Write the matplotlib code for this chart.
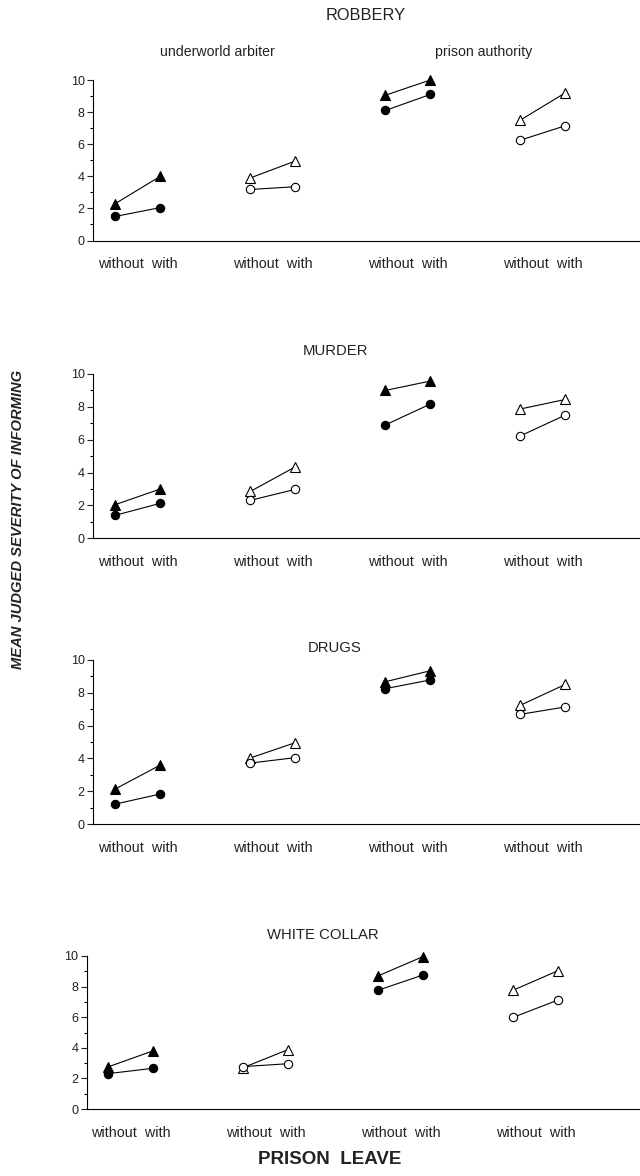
import numpy as np
import matplotlib
matplotlib.use("Agg")
import matplotlib.pyplot as plt
from matplotlib.ticker import MultipleLocator

plt.rcParams["font.family"] = ["Liberation Sans", "DejaVu Sans"]

crimes = ["ROBBERY", "MURDER", "DRUGS", "WHITE COLLAR"]
conditions = ["without", "with"]
groups = ["underworld arbiter", "underworld arbiter", "prison authority", "prison authority"]

# each row: 4 groups x (without, with)
triangle_vals = {
    "ROBBERY":      [[2.3, 4.0], [3.9, 4.95], [9.05, 10.0], [7.5, 9.2]],
    "MURDER":       [[2.05, 3.0], [2.85, 4.35], [9.0, 9.57], [7.87, 8.45]],
    "DRUGS":        [[2.15, 3.6], [4.03, 4.96], [8.66, 9.33], [7.23, 8.5]],
    "WHITE COLLAR": [[2.75, 3.8], [2.7, 3.88], [8.7, 9.96], [7.76, 9.04]],
}
circle_vals = {
    "ROBBERY":      [[1.5, 2.05], [3.18, 3.35], [8.1, 9.1], [6.25, 7.15]],
    "MURDER":       [[1.4, 2.13], [2.31, 2.98], [6.9, 8.17], [6.23, 7.5]],
    "DRUGS":        [[1.23, 1.84], [3.72, 4.05], [8.24, 8.77], [6.68, 7.13]],
    "WHITE COLLAR": [[2.31, 2.66], [2.77, 2.96], [7.76, 8.76], [5.99, 7.12]],
}
filled = [True, False, True, False]

W, H = 640, 1176
fig = plt.figure(figsize=(6.4, 11.76), dpi=100)

# axes placement in pixels: left, x=0 pixel, y=10 pixel, y=0 pixel
panels = [
    (93, 137.8, 80, 240.5),
    (93, 137.8, 374, 538.3),
    (93, 137.8, 659.7, 824.3),
    (86.7, 130.5, 956, 1109),
]
spacing = 135.0
top_val = 10.5
txt = "#222222"

for crime, (lp, x0p, y10, y0) in zip(crimes, panels):
    ppu = (y0 - y10) / 10.0
    top_px = y0 - top_val * ppu
    ax = fig.add_axes([lp / W, 1 - y0 / H, (W - lp) / W, (y0 - top_px) / H])
    ax.set_xlim((lp - x0p) / spacing, (W - x0p) / spacing)
    ax.set_ylim(0, top_val)
    for s in ["top", "right"]:
        ax.spines[s].set_visible(False)
    ax.spines["left"].set_bounds(0, 10)
    ax.spines["left"].set_linewidth(0.8)
    ax.spines["bottom"].set_linewidth(0.8)
    ax.yaxis.set_major_locator(MultipleLocator(2))
    ax.yaxis.set_minor_locator(MultipleLocator(1))
    ax.tick_params(axis="y", which="major", length=4, width=0.8, labelsize=9, colors=txt, pad=2)
    ax.tick_params(axis="y", which="minor", length=2, width=0.8)
    ax.set_xticks(range(4))
    ax.set_xticklabels(["without  with"] * 4)
    ax.tick_params(axis="x", length=0, labelsize=10.4, pad=12, colors=txt)

    for g in range(4):
        xs = [g - 1 / 6, g + 1 / 6]
        fc = "black" if filled[g] else "white"
        ax.plot(xs, triangle_vals[crime][g], color="black", lw=0.8, marker="^",
                ms=6.5, mfc=fc, mec="black", mew=0.8, clip_on=False, zorder=3)
        ax.plot(xs, circle_vals[crime][g], color="black", lw=0.8, marker="o",
                ms=6, mfc=fc, mec="black", mew=0.8, clip_on=False, zorder=3)

fig.text(366 / W, 1 - 15 / H, "ROBBERY", ha="center", va="center", fontsize=11.8, color=txt)
fig.text(335 / W, 1 - 351 / H, "MURDER", ha="center", va="center", fontsize=10.7, color=txt)
fig.text(335 / W, 1 - 648 / H, "DRUGS", ha="center", va="center", fontsize=10.7, color=txt)
fig.text(323 / W, 1 - 935 / H, "WHITE COLLAR", ha="center", va="center", fontsize=10.7, color=txt)
fig.text(217 / W, 1 - 52 / H, groups[0], ha="center", va="center", fontsize=10.2, color=txt)
fig.text(484 / W, 1 - 52 / H, groups[2], ha="center", va="center", fontsize=10.2, color=txt)

fig.text(330 / W, 1 - 1160 / H, "PRISON  LEAVE", ha="center", va="center",
         fontsize=13.5, fontweight="bold", color=txt)
fig.text(18 / W, 1 - 519 / H, "MEAN JUDGED SEVERITY OF INFORMING", ha="center", va="center",
         rotation=90, fontsize=10.6, fontweight="bold", fontstyle="italic", color=txt)

fig.savefig("out.png", dpi=100)
